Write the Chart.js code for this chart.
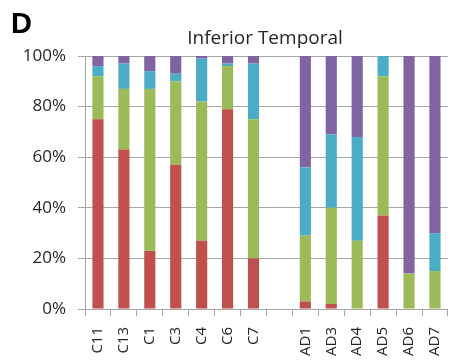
<!DOCTYPE html>
<html>
<head>
<meta charset="utf-8">
<script src="https://cdn.jsdelivr.net/npm/chart.js@4/dist/chart.umd.min.js"></script>
<style>
  html, body { margin: 0; padding: 0; background: #fff; }
  #wrap { width: 464px; height: 362px; position: relative; }
</style>
</head>
<body>
<div id="wrap"><canvas id="c" width="464" height="362"></canvas></div>
<script>
// Regions (blank entry separates controls from AD cases)
const categories = ['C11', 'C13', 'C1', 'C3', 'C4', 'C6', 'C7', '', 'AD1', 'AD3', 'AD4', 'AD5', 'AD6', 'AD7'];

// Percent composition per region, stacked bottom to top
const redValues    = [75, 63, 23, 57, 27, 79, 20, null,  3,  2,  0, 37,  0,  0];
const greenValues  = [17, 24, 64, 33, 55, 17, 55, null, 26, 38, 27, 55, 14, 15];
const cyanValues   = [ 4, 10,  7,  3, 17,  1, 22, null, 27, 29, 41,  8,  0, 15];
const purpleValues = [ 4,  3,  6,  7,  1,  3,  3, null, 44, 31, 32,  0, 86, 70];

const yTicks = [0, 20, 40, 60, 80, 100];
const chartTitle = 'Inferior Temporal';
const panelLetter = 'D';

const FONT = '"Open Sans", Lato, sans-serif';
const GRID = '#a6a6a6';

const headerText = {
  id: 'headerText',
  afterDraw(chart) {
    const ctx = chart.ctx;
    ctx.save();
    ctx.fillStyle = '#000';
    ctx.font = 'bold 29px "Liberation Sans", Arial, sans-serif';
    ctx.textAlign = 'left';
    ctx.textBaseline = 'alphabetic';
    ctx.fillText(panelLetter, 11, 33);
    ctx.fillStyle = '#262626';
    ctx.font = '19px ' + FONT;
    ctx.textAlign = 'center';
    ctx.fillText(chartTitle, 265, 44);
    ctx.restore();
  }
};

const mk = (label, data, color) => ({
  label, data, backgroundColor: color, borderWidth: 0,
  barPercentage: 0.43, categoryPercentage: 1.0
});

new Chart(document.getElementById('c'), {
  type: 'bar',
  data: {
    labels: categories,
    datasets: [
      mk('red', redValues, '#C0504D'),
      mk('green', greenValues, '#9BBB59'),
      mk('cyan', cyanValues, '#4BACC6'),
      mk('purple', purpleValues, '#8064A2')
    ]
  },
  options: {
    responsive: false,
    animation: false,
    layout: { padding: { top: 56, right: 1, left: 0, bottom: 0 } },
    plugins: {
      legend: { display: false },
      title: { display: false },
      tooltip: { enabled: false }
    },
    scales: {
      x: {
        stacked: true,
        grid: {
          display: true, offset: true, drawOnChartArea: false,
          drawTicks: true, tickLength: 7, color: GRID, lineWidth: 1
        },
        border: { display: true, color: GRID, width: 1 },
        ticks: {
          autoSkip: false, minRotation: 90, maxRotation: 90,
          padding: 11, color: '#262626', font: { family: FONT, size: 15 }
        },
        afterFit(scale) { scale.height = 53; }
      },
      y: {
        stacked: true,
        min: 0, max: 100,
        afterBuildTicks(scale) { scale.ticks = yTicks.map(v => ({ value: v })); },
        grid: { color: GRID, lineWidth: 1, tickLength: 7, drawTicks: true },
        border: { display: true, color: GRID, width: 1 },
        ticks: {
          padding: 12, color: '#262626', font: { family: FONT, size: 17 },
          callback: v => v + '%'
        },
        afterFit(scale) { scale.width = 85; }
      }
    }
  },
  plugins: [headerText]
});
</script>
</body>
</html>
